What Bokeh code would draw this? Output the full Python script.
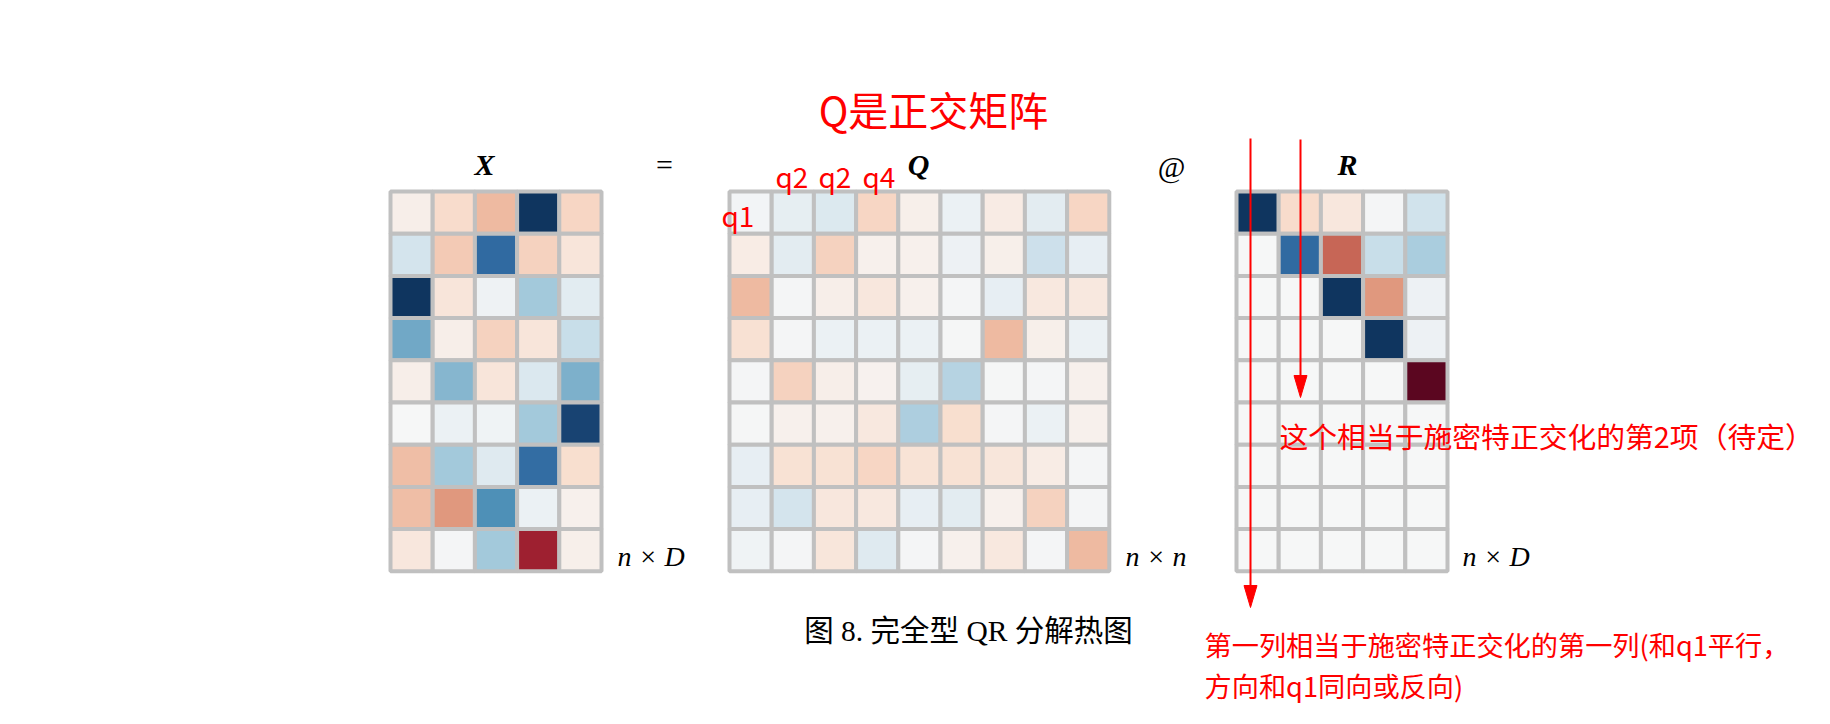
import numpy as np
from bokeh.plotting import figure
from bokeh.models import ColumnDataSource, LinearColorMapper, Range1d
from bokeh.core.properties import value
from bokeh.embed import file_html
from bokeh.resources import INLINE

# ---------------- data ----------------
X_vals = [
    [-0.07, -0.20, -0.33, 0.97, -0.22],
    [0.20, -0.27, 0.77, -0.24, -0.14],
    [0.97, -0.14, 0.05, 0.36, 0.12],
    [0.50, -0.07, -0.24, -0.14, 0.24],
    [-0.07, 0.45, -0.14, 0.16, 0.47],
    [0.00, 0.07, 0.04, 0.36, 0.92],
    [-0.32, 0.36, 0.14, 0.75, -0.18],
    [-0.32, -0.45, 0.60, 0.07, -0.05],
    [-0.12, 0.02, 0.36, -0.80, -0.06],
]
Q_vals = [
    [0.03, 0.10, 0.15, -0.22, -0.06, 0.07, -0.09, 0.11, -0.22],
    [-0.08, 0.11, -0.24, -0.05, -0.05, 0.06, -0.06, 0.22, 0.09],
    [-0.33, 0.02, -0.07, -0.12, -0.05, 0.02, 0.09, -0.11, -0.11],
    [-0.17, 0.02, 0.07, 0.07, 0.07, 0.01, -0.33, -0.06, 0.07],
    [0.02, -0.24, -0.07, -0.04, 0.10, 0.30, 0.01, 0.02, -0.05],
    [0.01, -0.05, -0.05, -0.11, 0.33, -0.18, 0.02, 0.07, -0.05],
    [0.09, -0.16, -0.16, -0.22, -0.15, -0.16, -0.13, -0.08, 0.02],
    [0.09, 0.20, -0.12, -0.11, 0.09, 0.11, -0.05, -0.24, 0.02],
    [0.04, 0.02, -0.13, 0.14, 0.02, -0.05, -0.11, 0.02, -0.33],
]
R_vals = [
    [0.97, -0.20, -0.12, 0.02, 0.21],
    [0.00, 0.77, -0.60, 0.24, 0.34],
    [0.00, 0.00, 0.97, -0.45, 0.06],
    [0.00, 0.00, 0.00, 0.97, 0.06],
    [0.00, 0.00, 0.00, 0.00, -1.00],
    [0.00, 0.00, 0.00, 0.00, 0.00],
    [0.00, 0.00, 0.00, 0.00, 0.00],
    [0.00, 0.00, 0.00, 0.00, 0.00],
    [0.00, 0.00, 0.00, 0.00, 0.00],
]
matrix_titles = ["X", "Q", "R"]
shape_labels = ["n × D", "n × n", "n × D"]
operators = ["=", "@"]
q_labels = ["q1", "q2", "q2", "q4"]
title_text = "Q是正交矩阵"
caption_text = "图 8. 完全型 QR 分解热图"
note_text = "这个相当于施密特正交化的第2项（待定）"
bottom_lines = ["第一列相当于施密特正交化的第一列(和q1平行，", "方向和q1同向或反向)"]

# ---------------- colour map (muted RdBu) ----------------
base = ["#67001f", "#b2182b", "#d6604d", "#f4a582", "#fddbc7", "#f7f7f7",
        "#d1e5f0", "#92c5de", "#4393c3", "#2166ac", "#053061"]
rgb = np.array([[int(c[i:i + 2], 16) for i in (1, 3, 5)] for c in base], dtype=float)
lum = (rgb @ np.array([0.299, 0.587, 0.114]))[:, None]
rgb = rgb * 0.82 + lum * 0.18
pos = np.linspace(0, 1, len(base))
t = np.linspace(0, 1, 256)
pal = ["#%02x%02x%02x" % tuple(int(round(np.clip(np.interp(tt, pos, rgb[:, k]), 0, 255))) for k in range(3)) for tt in t]
mapper = LinearColorMapper(palette=pal, low=-1, high=1)

# ---------------- figure ----------------
W, H = 1830, 724
p = figure(width=W, height=H, x_range=Range1d(0, W), y_range=Range1d(H, 0),
           output_backend="svg", toolbar_location=None, min_border=0,
           x_axis_location=None, y_axis_location=None)
p.grid.visible = False
p.outline_line_color = None
p.background_fill_color = "white"
p.border_fill_color = "white"

cell = 42.2
top = 191
origins = [390, 729, 1236]
mats = [X_vals, Q_vals, R_vals]

for M, x0 in zip(mats, origins):
    A = np.array(M)
    nr, nc = A.shape
    ii, jj = np.meshgrid(np.arange(nr), np.arange(nc), indexing="ij")
    src = ColumnDataSource(dict(x=(x0 + (jj.ravel() + 0.5) * cell),
                                y=(top + (ii.ravel() + 0.5) * cell),
                                v=A.ravel()))
    p.rect(x="x", y="y", width=cell, height=cell, source=src,
           fill_color={"field": "v", "transform": mapper},
           line_color="#c0c0c0", line_width=4)

serif = value("Liberation Serif")
cjk = value("Noto Sans CJK SC")

# matrix titles
p.text(x=[484, 918, 1347], y=[164, 164, 164], text=matrix_titles, text_font=serif,
       text_font_style="bold italic", text_font_size="30px", text_align="center",
       text_baseline="middle", text_color="black")
# operators
p.text(x=[664, 1171], y=[164, 166], text=operators, text_font=serif,
       text_font_size="30px", text_align="center", text_baseline="middle", text_color="black")
# shape labels
p.text(x=[617, 1125, 1462], y=[556, 556, 556], text=shape_labels, text_font=serif,
       text_font_style="italic", text_font_size="28px", text_align="left",
       text_baseline="middle", text_color="black")
# caption
p.text(x=[968], y=[630], text=[caption_text], text_font=value("Liberation Serif, Noto Sans CJK SC"),
       text_font_size="29.5px", text_align="center", text_baseline="middle", text_color="black")

# red annotations
red = "#ff0000"
p.text(x=[933], y=[108], text=[title_text], text_font=cjk, text_font_size="40px",
       text_align="center", text_baseline="middle", text_color=red)
p.text(x=[721, 775, 818, 862], y=[214, 175, 175, 175], text=q_labels, text_font=cjk,
       text_font_size="28px", text_align="left", text_baseline="middle", text_color=red)

# arrows
ax = [1250, 1300]
ay0 = [138, 139]
ay1 = [607, 397]
hl, hw = 22, 13
p.segment(x0=ax, y0=ay0, x1=ax, y1=[y - hl + 2 for y in ay1], line_color=red, line_width=2)
p.patches(xs=[[x - hw / 2, x + hw / 2, x] for x in ax],
          ys=[[y - hl, y - hl, y] for y in ay1], fill_color=red, line_color=red, line_width=1)

p.text(x=[1279], y=[435], text=[note_text], text_font=cjk, text_font_size="28.8px",
       text_align="left", text_baseline="middle", text_color=red)
p.text(x=[1204, 1204], y=[643, 684], text=bottom_lines, text_font=cjk, text_font_size="27.2px",
       text_align="left", text_baseline="middle", text_color=red)

open("out.html", "w").write(file_html(p, INLINE))
